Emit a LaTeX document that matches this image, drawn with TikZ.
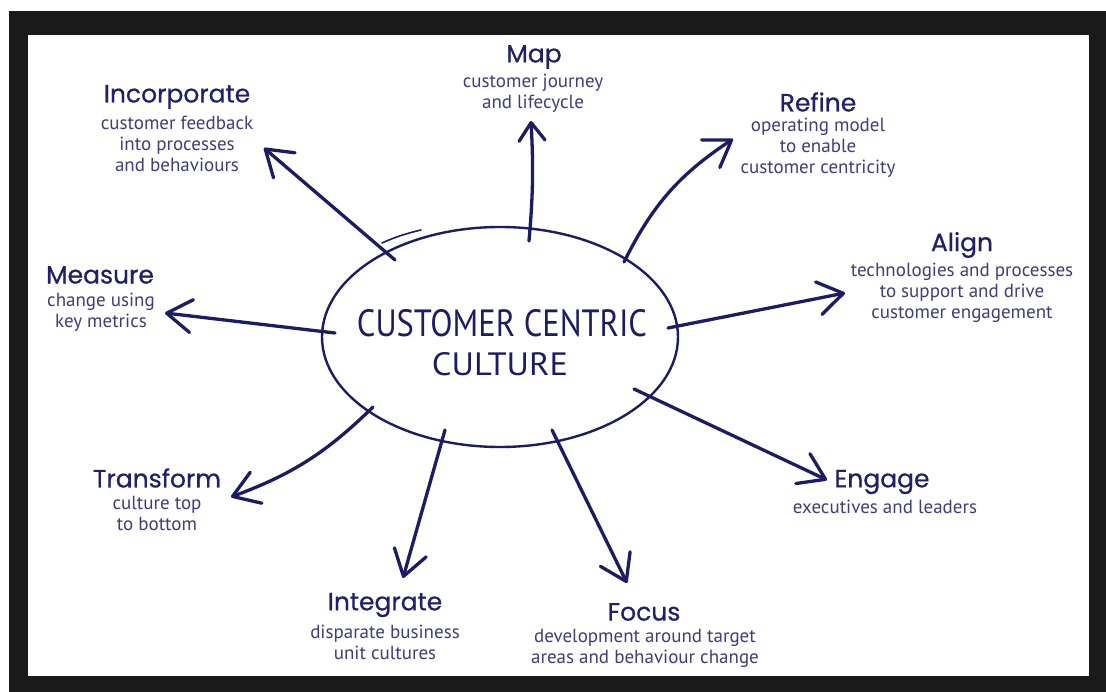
\documentclass[tikz,border=0pt]{standalone}
\usepackage{fontspec}
\usepackage{graphicx}
\setmainfont{PT Sans}
\newfontfamily\titlefont{Poppins}[FakeBold=0.6]
\usetikzlibrary{arrows.meta,shapes.geometric}
\definecolor{navy}{RGB}{28,28,100}
\definecolor{titlec}{RGB}{32,32,105}
\definecolor{bodyc}{RGB}{62,62,122}
\definecolor{framec}{RGB}{26,26,26}
\begin{document}
\begin{tikzpicture}[x=1pt,y=-1pt,
  conn/.style={draw=navy, line width=3.3pt, line cap=round, -{Straight Barb[length=25pt,width=33pt,round]}},
  smallconn/.style={draw=navy, line width=3.3pt, line cap=round, -{Straight Barb[length=18pt,width=26pt,round]}},
  ttl/.style={text=titlec, font=\titlefont\fontsize{25}{28}\selectfont, inner sep=0pt},
  body/.style={text=bodyc, font=\fontsize{19}{21}\selectfont, align=center, inner sep=0pt},
  core/.style={ellipse, draw=navy, line width=2.4pt, minimum width=356pt, minimum height=220pt, inner sep=0pt},
  coretext/.style={text=navy, inner sep=0pt},
]
\useasboundingbox (0,0) rectangle (1106,692);
\fill[white] (0,0) rectangle (1106,692);
\fill[framec] (9,11) rectangle (1106,692);
\fill[white] (28,35) rectangle (1089,676);

% central ellipse
\node[core] (core) at (500,337) {};
\node[coretext] (ct1) at (502,323) {\resizebox{290pt}{27pt}{CUSTOMER CENTRIC}};
\node[coretext] (ct2) at (500,364) {\resizebox{136pt}{23pt}{CULTURE}};
\draw[navy, line width=1.6pt, line cap=round] (382,243) .. controls (395,237) and (408,233) .. (421,230);

% titles
\node[ttl] (tInc) at (177,97) {Incorporate};
\node[ttl] (tMap) at (534,57) {Map};
\node[ttl] (tRef) at (818,102) {Refine};
\node[ttl] (tAli) at (962,245) {Align};
\node[ttl] (tMea) at (100,275) {Measure};
\node[ttl] (tTra) at (157,478) {Transform};
\node[ttl] (tInt) at (385,605) {Integrate};
\node[ttl] (tFoc) at (644,612) {Focus};
\node[ttl] (tEng) at (882,482) {Engage};

% descriptions
\node[body] (bInc) at (177,144) {customer feedback\\into processes\\and behaviours};
\node[body] (bMap) at (533,93) {customer journey\\and lifecycle};
\node[body] (bRef) at (818,148) {operating model\\to enable\\customer centricity};
\node[body] (bAli) at (962,293) {technologies and processes\\to support and drive\\customer engagement};
\node[body] (bMea) at (101,312) {change using\\key metrics};
\node[body] (bTra) at (157,513) {culture top\\to bottom};
\node[body] (bInt) at (385,642) {disparate business\\unit cultures};
\node[body] (bFoc) at (645,648) {development around target\\areas and behaviour change};
\node[body] (bEng) at (885,507) {executives and leaders};

% arrow end points
\coordinate (sInc) at (395,260); \coordinate (eInc) at (264,148);
\coordinate (sMap) at (529,241); \coordinate (eMap) at (531,121);
\coordinate (sRef) at (624,262); \coordinate (eRef) at (733,139);
\coordinate (sAli) at (668,328); \coordinate (eAli) at (845,293);
\coordinate (sMea) at (335,333); \coordinate (eMea) at (165,313);
\coordinate (sTra) at (373,407); \coordinate (eTra) at (231,497);
\coordinate (sInt) at (445,430); \coordinate (eInt) at (403,578);
\coordinate (sFoc) at (552,430); \coordinate (eFoc) at (627,583);
\coordinate (sEng) at (634,389); \coordinate (eEng) at (827,480);

\draw[conn] (sInc) -- (eInc);
\draw[smallconn] (sMap) to[bend right=4] (eMap);
\draw[conn] (sRef) to[bend left=15] (eRef);
\draw[conn] (sAli) -- (eAli);
\draw[conn] (sMea) -- (eMea);
\draw[conn] (sTra) to[bend left=12] (eTra);
\draw[conn] (sInt) -- (eInt);
\draw[conn] (sFoc) -- (eFoc);
\draw[conn] (sEng) -- (eEng);
\end{tikzpicture}
\end{document}
